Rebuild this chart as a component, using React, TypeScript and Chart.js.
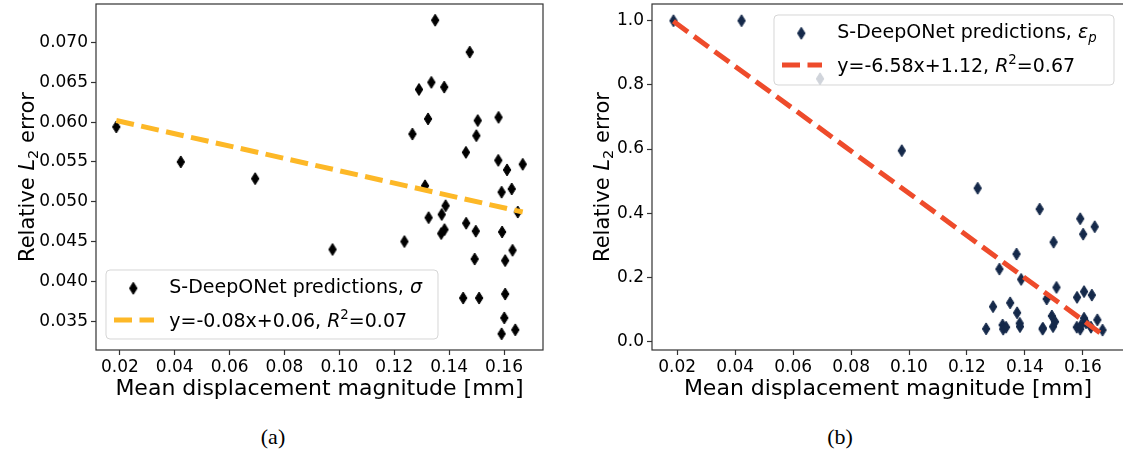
import React, { useEffect, useRef } from 'react';
import { Chart, registerables } from 'chart.js';

Chart.register(...registerables);

// ---------------- data ----------------
const displacementMm = [
  0.0187, 0.0422, 0.0693, 0.0975, 0.1237, 0.1266, 0.129, 0.1312, 0.1323, 0.1325,
  0.1335, 0.1349, 0.1371, 0.1373, 0.1382, 0.1383, 0.1387, 0.1451, 0.1461, 0.1462,
  0.1475, 0.1493, 0.1497, 0.1499, 0.1504, 0.1509, 0.1579, 0.158, 0.1591, 0.1591,
  0.1593, 0.1601, 0.1604, 0.1604, 0.1611, 0.1628, 0.1631, 0.1641, 0.165, 0.1668,
];
const stressError = [
  0.0594, 0.055, 0.0529, 0.044, 0.045, 0.0585, 0.0641, 0.052, 0.0604, 0.048,
  0.065, 0.0728, 0.046, 0.0484, 0.0644, 0.0465, 0.0495, 0.0379, 0.0562, 0.0473,
  0.0688, 0.0428, 0.0463, 0.0583, 0.0602, 0.0379, 0.0552, 0.0606, 0.0512, 0.0334,
  0.0462, 0.0354, 0.0426, 0.0384, 0.054, 0.0516, 0.0439, 0.0339, 0.0487, 0.0547,
];
const strainError = [
  1.0, 1.0, 0.819, 0.595, 0.478, 0.04, 0.109, 0.226, 0.052, 0.039,
  0.045, 0.121, 0.273, 0.09, 0.057, 0.047, 0.194, 0.413, 0.039, 0.042,
  0.133, 0.08, 0.047, 0.31, 0.062, 0.169, 0.045, 0.138, 0.383, 0.039,
  0.05, 0.335, 0.156, 0.073, 0.059, 0.045, 0.145, 0.358, 0.068, 0.036,
];
const displacementTicks = [0.02, 0.04, 0.06, 0.08, 0.1, 0.12, 0.14, 0.16];
const stressTicks = [0.035, 0.04, 0.045, 0.05, 0.055, 0.06, 0.065, 0.07];
const strainTicks = [0.0, 0.2, 0.4, 0.6, 0.8, 1.0];
const fitX = [0.0187, 0.1668];
const stressFitY = [0.0602, 0.0487];
const strainFitY = [0.998, 0.022];

// ---------------- layout / style ----------------
const FONT = '"DejaVu Sans", sans-serif';
const CANVAS_H = 420;
const PLOT_TOP = 4;
const PLOT_BOTTOM = 350;
const X_MIN = 0.0113;
const X_MAX = 0.1742;

type Seg = { t: string; it?: boolean; pos?: 'sub' | 'sup' };

function segFont(s: Seg, size: number) {
  const sz = s.pos ? size * 0.7 : size;
  return `${s.it ? 'italic ' : ''}${sz}px ${FONT}`;
}
function measureRich(ctx: CanvasRenderingContext2D, segs: Seg[], size: number) {
  let w = 0;
  for (const s of segs) {
    ctx.font = segFont(s, size);
    w += ctx.measureText(s.t).width;
  }
  return w;
}
function drawRich(ctx: CanvasRenderingContext2D, segs: Seg[], x: number, baseline: number, size: number, color: string) {
  ctx.fillStyle = color;
  ctx.textAlign = 'left';
  ctx.textBaseline = 'alphabetic';
  let cx = x;
  for (const s of segs) {
    ctx.font = segFont(s, size);
    const dy = s.pos === 'sub' ? size * 0.2 : s.pos === 'sup' ? -size * 0.42 : 0;
    ctx.fillText(s.t, cx, baseline + dy);
    cx += ctx.measureText(s.t).width;
  }
}

function makeDiamond(color: string, w = 7.5, h = 12) {
  const c = document.createElement('canvas');
  const W = Math.ceil(w) + 2;
  const H = Math.ceil(h) + 2;
  c.width = W;
  c.height = H;
  const ctx = c.getContext('2d')!;
  ctx.fillStyle = color;
  ctx.strokeStyle = color;
  ctx.lineWidth = 1;
  ctx.beginPath();
  ctx.moveTo(W / 2, (H - h) / 2);
  ctx.lineTo(W / 2 + w / 2, H / 2);
  ctx.lineTo(W / 2, H - (H - h) / 2);
  ctx.lineTo(W / 2 - w / 2, H / 2);
  ctx.closePath();
  ctx.fill();
  ctx.stroke();
  return c;
}

interface PanelSpec {
  offsetX: number;
  canvasWidth: number;
  plotLeft: number;
  plotRight: number;
  yValues: number[];
  yTicks: number[];
  yMin: number;
  yMax: number;
  yDecimals: number;
  fitY: number[];
  markerColor: string;
  lineColor: string;
  legendRows: Seg[][];
  legendBox: { x: number; y: number; w: number; h: number };
  yTitleX: number;
}

const yTitle: Seg[] = [{ t: 'Relative ' }, { t: 'L', it: true }, { t: '2', pos: 'sub' }, { t: ' error' }];
const xTitle: Seg[] = [{ t: 'Mean displacement magnitude [mm]' }];

const panels: PanelSpec[] = [
  {
    offsetX: 0,
    canvasWidth: 560,
    plotLeft: 96,
    plotRight: 543,
    yValues: stressError,
    yTicks: stressTicks,
    yMin: 0.03137,
    yMax: 0.07484,
    yDecimals: 3,
    fitY: stressFitY,
    markerColor: '#000000',
    lineColor: '#fdb827',
    legendRows: [
      [{ t: 'S-DeepONet predictions, ' }, { t: 'σ', it: true }],
      [{ t: 'y=-0.08x+0.06, ' }, { t: 'R', it: true }, { t: '2', pos: 'sup' }, { t: '=0.07' }],
    ],
    legendBox: { x: 106, y: 270, w: 332, h: 69 },
    yTitleX: 26,
  },
  {
    offsetX: 560,
    canvasWidth: 580,
    plotLeft: 92,
    plotRight: 564,
    yValues: strainError,
    yTicks: strainTicks,
    yMin: -0.026,
    yMax: 1.052,
    yDecimals: 1,
    fitY: strainFitY,
    markerColor: '#15294a',
    lineColor: '#ee4b2b',
    legendRows: [
      [{ t: 'S-DeepONet predictions, ' }, { t: 'ε', it: true }, { t: 'p', it: true, pos: 'sub' }],
      [{ t: 'y=-6.58x+1.12, ' }, { t: 'R', it: true }, { t: '2', pos: 'sup' }, { t: '=0.67' }],
    ],
    legendBox: { x: 214, y: 15, w: 340, h: 70 },
    yTitleX: 41,
  },
];

function zeroPadding(ax: any) {
  ax.paddingTop = 0;
  ax.paddingBottom = 0;
  ax.paddingLeft = 0;
  ax.paddingRight = 0;
}

function Panel({ spec }: { spec: PanelSpec }) {
  const ref = useRef<HTMLCanvasElement>(null);
  useEffect(() => {
    const canvas = ref.current!;
    const diamond = makeDiamond(spec.markerColor);
    const decor = {
      id: 'decor',
      afterDatasetsDraw(chart: any) {
        const { ctx, chartArea: a } = chart;
        ctx.save();
        ctx.strokeStyle = '#333333';
        ctx.lineWidth = 1.2;
        ctx.strokeRect(a.left, a.top, a.right - a.left, a.bottom - a.top);
        ctx.restore();
      },
      afterDraw(chart: any) {
        const { ctx, chartArea: a } = chart;
        ctx.save();
        // x title
        const xs = 22;
        const xw = measureRich(ctx, xTitle, xs);
        drawRich(ctx, xTitle, (a.left + a.right) / 2 - xw / 2, 395, xs, '#000');
        // y title
        const ys = 21;
        const yw = measureRich(ctx, yTitle, ys);
        ctx.save();
        ctx.translate(spec.yTitleX, (a.top + a.bottom) / 2);
        ctx.rotate(-Math.PI / 2);
        drawRich(ctx, yTitle, -yw / 2, 0.36 * ys, ys, '#000');
        ctx.restore();
        // legend
        const b = spec.legendBox;
        ctx.beginPath();
        const r = 4;
        ctx.moveTo(b.x + r, b.y);
        ctx.lineTo(b.x + b.w - r, b.y);
        ctx.arcTo(b.x + b.w, b.y, b.x + b.w, b.y + r, r);
        ctx.lineTo(b.x + b.w, b.y + b.h - r);
        ctx.arcTo(b.x + b.w, b.y + b.h, b.x + b.w - r, b.y + b.h, r);
        ctx.lineTo(b.x + r, b.y + b.h);
        ctx.arcTo(b.x, b.y + b.h, b.x, b.y + b.h - r, r);
        ctx.lineTo(b.x, b.y + r);
        ctx.arcTo(b.x, b.y, b.x + r, b.y, r);
        ctx.closePath();
        ctx.fillStyle = 'rgba(255,255,255,0.8)';
        ctx.fill();
        ctx.strokeStyle = 'rgba(204,204,204,0.8)';
        ctx.lineWidth = 1;
        ctx.stroke();
        ctx.drawImage(diamond, b.x + 27.3 - diamond.width / 2, b.y + 18.3 - diamond.height / 2);
        ctx.beginPath();
        ctx.setLineDash([18, 7.5]);
        ctx.lineCap = 'butt';
        ctx.strokeStyle = spec.lineColor;
        ctx.lineWidth = 5;
        ctx.moveTo(b.x + 8, b.y + 50);
        ctx.lineTo(b.x + 48, b.y + 50);
        ctx.stroke();
        ctx.setLineDash([]);
        const ls = 19;
        drawRich(ctx, spec.legendRows[0], b.x + 63.3, b.y + 23.3, ls, '#000');
        drawRich(ctx, spec.legendRows[1], b.x + 63.3, b.y + 57, ls, '#000');
        ctx.restore();
      },
    };
    const tickFont = { family: FONT, size: 17 };
    const gridCfg = {
      display: true,
      drawOnChartArea: false,
      drawTicks: true,
      tickLength: 5,
      tickColor: '#333333',
      tickWidth: 1.2,
    };
    const chart = new Chart(canvas, {
      type: 'scatter',
      data: {
        datasets: [
          {
            label: 'fit',
            data: fitX.map((x, i) => ({ x, y: spec.fitY[i] })),
            showLine: true,
            borderColor: spec.lineColor,
            borderWidth: 5,
            borderDash: [18, 7.5],
            borderCapStyle: 'butt',
            pointRadius: 0,
          } as any,
          {
            label: 'pred',
            data: displacementMm.map((x, i) => ({ x, y: spec.yValues[i] })),
            pointStyle: diamond as any,
            pointRadius: 5,
            backgroundColor: spec.markerColor,
            borderColor: spec.markerColor,
          } as any,
        ],
      },
      options: {
        responsive: false,
        animation: false,
        devicePixelRatio: 1,
        events: [],
        layout: {
          autoPadding: false,
          padding: { left: 0, top: PLOT_TOP, right: spec.canvasWidth - spec.plotRight, bottom: 0 },
        },
        plugins: { legend: { display: false }, tooltip: { enabled: false } },
        scales: {
          x: {
            type: 'linear',
            min: X_MIN,
            max: X_MAX,
            afterBuildTicks: (ax: any) => {
              ax.ticks = displacementTicks.map((v) => ({ value: v }));
            },
            afterFit: (ax: any) => {
              ax.height = CANVAS_H - PLOT_BOTTOM;
              zeroPadding(ax);
            },
            ticks: {
              font: tickFont,
              color: '#000',
              padding: 2,
              maxRotation: 0,
              autoSkip: false,
              callback: (v: any) => Number(v).toFixed(2),
            },
            grid: gridCfg,
            border: { display: false },
          },
          y: {
            type: 'linear',
            min: spec.yMin,
            max: spec.yMax,
            afterBuildTicks: (ax: any) => {
              ax.ticks = spec.yTicks.map((v) => ({ value: v }));
            },
            afterFit: (ax: any) => {
              ax.width = spec.plotLeft;
              zeroPadding(ax);
            },
            ticks: {
              font: tickFont,
              color: '#000',
              padding: 3,
              autoSkip: false,
              callback: (v: any) => Number(v).toFixed(spec.yDecimals),
            },
            grid: gridCfg,
            border: { display: false },
          },
        },
      } as any,
      plugins: [decor],
    });
    return () => chart.destroy();
  }, []);
  return (
    <canvas
      ref={ref}
      width={spec.canvasWidth}
      height={CANVAS_H}
      style={{ position: 'absolute', left: spec.offsetX, top: 0, width: spec.canvasWidth, height: CANVAS_H }}
    />
  );
}

const captionStyle: React.CSSProperties = {
  position: 'absolute',
  top: 437,
  transform: 'translate(-50%, -50%)',
  fontFamily: '"Liberation Serif", serif',
  fontSize: 22,
  color: '#000',
  whiteSpace: 'nowrap',
};

export default function App() {
  return (
    <div
      style={{
        position: 'absolute',
        left: 0,
        top: 0,
        width: 1123,
        height: 454,
        overflow: 'hidden',
        background: '#fff',
      }}
    >
      {panels.map((p, i) => (
        <Panel key={i} spec={p} />
      ))}
      <div style={{ ...captionStyle, left: 273 }}>(a)</div>
      <div style={{ ...captionStyle, left: 840 }}>(b)</div>
    </div>
  );
}
